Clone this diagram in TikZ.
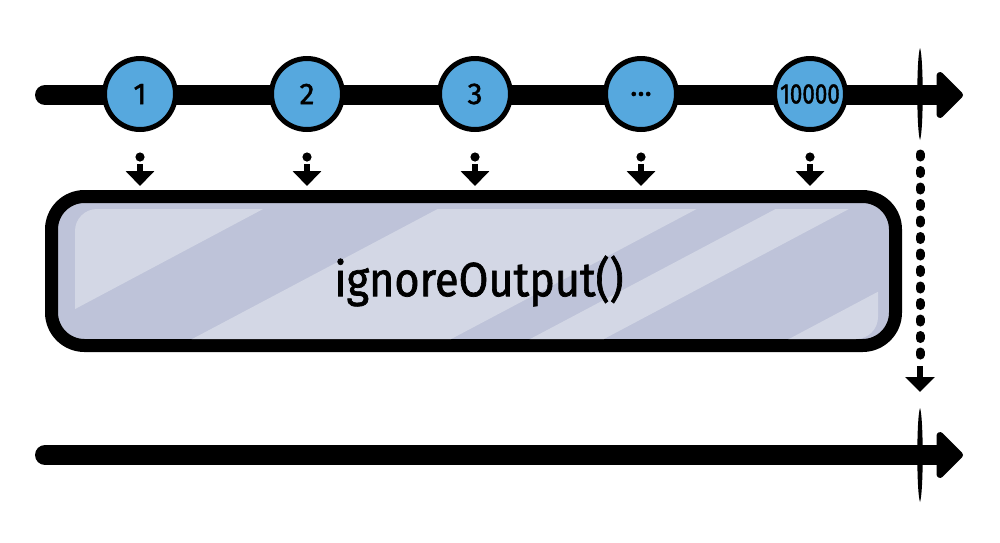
\documentclass[tikz,border=0pt]{standalone}
\usepackage{fontspec}
\setmainfont{Fira Sans}[FakeBold=1.5]
\usetikzlibrary{arrows.meta}
\definecolor{marble}{HTML}{56A8DE}
\definecolor{boxbase}{HTML}{BEC3D9}
\definecolor{boxlight}{HTML}{D3D7E5}
\begin{document}
\begin{tikzpicture}[x=0.5pt,y=-0.5pt,
  timeline/.style={line width=10pt, line cap=round, -{Triangle[length=14pt,width=27pt,round]}},
  marblenode/.style={circle, draw=black, line width=2.5pt, fill=marble, minimum size=35.5pt, inner sep=0pt, font=\fontsize{15}{15}\selectfont},
  tickmark/.style={fill=black},
  dotline/.style={line width=4.5pt, line cap=round, dash pattern=on 1.5pt off 6.75pt},
  headarrow/.style={line width=3pt, -{Triangle[length=7.5pt,width=14pt]}},
  opbox/.style={draw=black, line width=6.5pt, fill=boxbase, rounded corners=16.5pt, minimum width=422pt, minimum height=74.5pt, inner sep=0pt},
  oplabel/.style={font=\fontsize{24}{24}\selectfont}
]
\useasboundingbox (0,0) rectangle (1000,542);
\fill[white] (0,0) rectangle (1000,542);

% timelines
\coordinate (t1s) at (45,95);
\coordinate (t1e) at (963,95);
\coordinate (t2s) at (45,455);
\coordinate (t2e) at (963,455);
\draw[timeline] (t1s) -- (t1e);
\draw[timeline] (t2s) -- (t2e);

% end ticks
\fill[tickmark] (920,48) .. controls (923.6,58) and (923.6,130) .. (920,140) .. controls (916.4,130) and (916.4,58) .. (920,48);
\fill[tickmark] (920,408) .. controls (923.6,418) and (923.6,492) .. (920,502) .. controls (916.4,492) and (916.4,418) .. (920,408);

% marbles
\node[marblenode] (c1) at (140,94) {1};
\node[marblenode] (c2) at (307,94) {2};
\node[marblenode] (c3) at (475,94) {3};
\node[marblenode] (c4) at (641,94) {...};
\node[marblenode] (c5) at (810,94) {\fontsize{14}{14}\selectfont\scalebox{0.8}[1]{10000}};

% small arrows into operator
\foreach \i/\xx in {1/140,2/307,3/475,4/641,5/810}{
  \coordinate (d\i) at (\xx,157);
  \coordinate (s\i) at (\xx,164);
  \coordinate (h\i) at (\xx,186);
  \fill (d\i) circle[radius=2.3pt];
  \draw[headarrow] (s\i) -- (h\i);
}

% operator box
\node[opbox] (op) at (473.5,271) {};
\begin{scope}
  \clip[rounded corners=11pt] (75,209) rectangle (878,339);
  \fill[boxlight] (-200,150) -- (374,150) -- (-96,400) -- (-200,400) -- cycle;
  \fill[boxlight] (549,150) -- (808,150) -- (336,400) -- (77,400) -- cycle;
  \fill[boxlight] (887,150) -- (960,150) -- (489,400) -- (415,400) -- cycle;
  \fill[boxlight] (1145,150) -- (1200,150) -- (1200,400) -- (674,400) -- cycle;
\end{scope}
\node[oplabel] (lbl) at (479,281) {\scalebox{0.9}[1]{ignoreOutput()}};

% completion dotted arrow
\coordinate (v1) at (920,154);
\coordinate (v2) at (920,360);
\coordinate (v3) at (920,366);
\coordinate (v4) at (920,392);
\draw[dotline] (v1) -- (v2);
\draw[headarrow, -{Triangle[length=7.5pt,width=14.5pt]}] (v3) -- (v4);
\end{tikzpicture}
\end{document}
